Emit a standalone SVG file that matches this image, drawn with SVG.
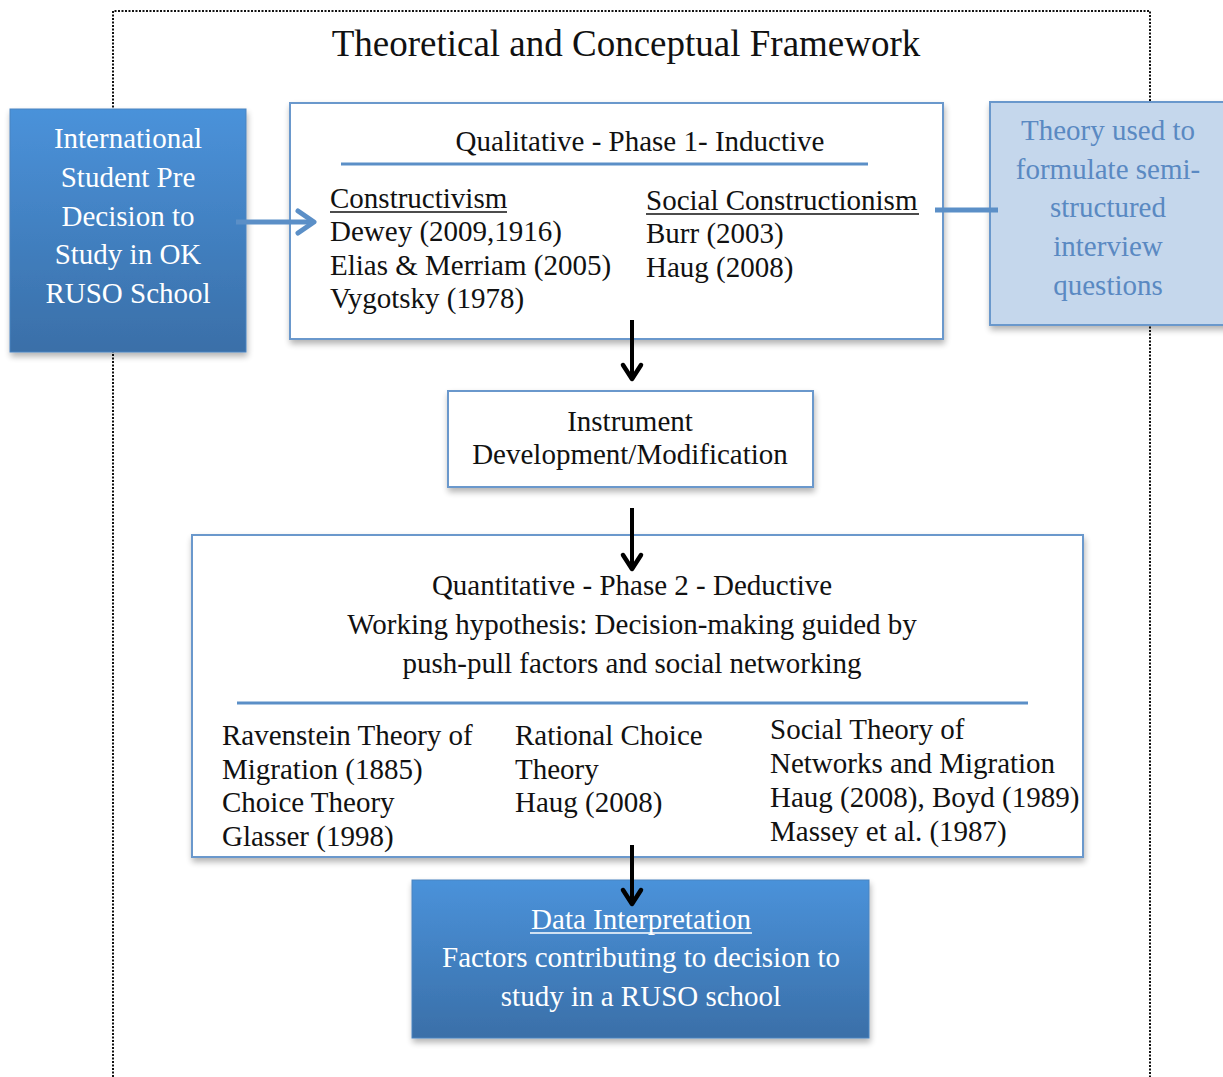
<svg xmlns="http://www.w3.org/2000/svg" width="1223" height="1077" viewBox="0 0 1223 1077">
  <style>
    text { font-family: "Liberation Serif", "Times New Roman", serif; font-size: 29px; fill: #111; }
    .title { font-size: 37px; text-anchor: middle; }
    .mid { text-anchor: middle; }
    .white { fill: #ffffff; }
    .pale { fill: #5a89c2; }
    .frame { fill: #ffffff; stroke: #6a98cc; stroke-width: 2; }
    .rule { stroke: #5b8fc7; stroke-width: 3; }
    .ul { stroke: #111; stroke-width: 1.4; }
    .ulw { stroke: #ffffff; stroke-width: 1.4; }
    .down { stroke: #000; stroke-width: 4; fill: none; }
    .chev { stroke: #000; stroke-width: 4.5; fill: none; stroke-linecap: round; stroke-linejoin: round; }
  </style>
  <defs>
    <linearGradient id="blueFill" x1="0" y1="0" x2="0" y2="1">
      <stop offset="0" stop-color="#4a92da"/>
      <stop offset="1" stop-color="#3a6fa8"/>
    </linearGradient>
    <filter id="shadow" x="-10%" y="-10%" width="125%" height="125%">
      <feGaussianBlur in="SourceAlpha" stdDeviation="3"/>
      <feOffset dx="1" dy="4" result="b"/>
      <feComponentTransfer><feFuncA type="linear" slope="0.3"/></feComponentTransfer>
      <feMerge><feMergeNode/><feMergeNode in="SourceGraphic"/></feMerge>
    </filter>
  </defs>

  <rect width="1223" height="1077" fill="#ffffff"/>

  <!-- dotted page frame -->
  <path d="M113 1077 V11 H1150 V1077" fill="none" stroke="#111" stroke-width="2" stroke-dasharray="2 1.5"/>

  <text class="title" x="626" y="56">Theoretical and Conceptual Framework</text>

  <!-- left input box -->
  <g id="student-decision">
    <rect x="10" y="109" width="236" height="243" fill="url(#blueFill)" stroke="#4a84c0" stroke-width="1" filter="url(#shadow)"/>
    <text class="mid white" x="128" y="148">International</text>
    <text class="mid white" x="128" y="187">Student Pre</text>
    <text class="mid white" x="128" y="226">Decision to</text>
    <text class="mid white" x="128" y="264">Study in OK</text>
    <text class="mid white" x="128" y="303">RUSO School</text>
  </g>

  <!-- phase 1 -->
  <g id="phase1">
    <rect class="frame" x="290" y="103" width="653" height="236" filter="url(#shadow)"/>
    <text class="mid" x="640" y="151">Qualitative - Phase 1- Inductive</text>
    <line class="rule" x1="341" y1="164" x2="868" y2="164"/>
    <text x="330" y="208">Constructivism</text>
    <line class="ul" x1="330" y1="212" x2="507" y2="212"/>
    <text x="330" y="241">Dewey (2009,1916)</text>
    <text x="330" y="275">Elias &amp; Merriam (2005)</text>
    <text x="330" y="308">Vygotsky (1978)</text>
    <text x="646" y="210">Social Constructionism</text>
    <line class="ul" x1="646" y1="214" x2="919" y2="214"/>
    <text x="646" y="243">Burr (2003)</text>
    <text x="646" y="277">Haug (2008)</text>
  </g>

  <!-- right note box -->
  <g id="interview-theory">
    <rect x="990" y="102" width="240" height="223" fill="#c5d7ec" stroke="#6a98cc" stroke-width="2" filter="url(#shadow)"/>
    <text class="mid pale" x="1108" y="140">Theory used to</text>
    <text class="mid pale" x="1108" y="179">formulate semi-</text>
    <text class="mid pale" x="1108" y="217">structured</text>
    <text class="mid pale" x="1108" y="256">interview</text>
    <text class="mid pale" x="1108" y="295">questions</text>
  </g>

  <!-- instrument -->
  <g id="instrument">
    <rect class="frame" x="448" y="391" width="365" height="96" filter="url(#shadow)"/>
    <text class="mid" x="630" y="431">Instrument</text>
    <text class="mid" x="630" y="464">Development/Modification</text>
  </g>

  <!-- phase 2 -->
  <g id="phase2">
    <rect class="frame" x="192" y="535" width="891" height="322" filter="url(#shadow)"/>
    <text class="mid" x="632" y="595">Quantitative - Phase 2 - Deductive</text>
    <text class="mid" x="632" y="634">Working hypothesis: Decision-making guided by</text>
    <text class="mid" x="632" y="673">push-pull factors and social networking</text>
    <line class="rule" x1="237" y1="703" x2="1028" y2="703"/>
    <text x="222" y="745">Ravenstein Theory of</text>
    <text x="222" y="779">Migration (1885)</text>
    <text x="222" y="812">Choice Theory</text>
    <text x="222" y="846">Glasser (1998)</text>
    <text x="515" y="745">Rational Choice</text>
    <text x="515" y="779">Theory</text>
    <text x="515" y="812">Haug (2008)</text>
    <text x="770" y="739">Social Theory of</text>
    <text x="770" y="773">Networks and Migration</text>
    <text x="770" y="807">Haug (2008), Boyd (1989)</text>
    <text x="770" y="841">Massey et al. (1987)</text>
  </g>

  <!-- output box -->
  <g id="data-interpretation">
    <rect x="412" y="880" width="457" height="158" fill="url(#blueFill)" stroke="#4a84c0" stroke-width="1" filter="url(#shadow)"/>
    <text class="mid white" x="641" y="929">Data Interpretation</text>
    <line class="ulw" x1="530" y1="933" x2="752" y2="933"/>
    <text class="mid white" x="641" y="967">Factors contributing to decision to</text>
    <text class="mid white" x="641" y="1006">study in a RUSO school</text>
  </g>

  <!-- connectors -->
  <g id="connectors">
    <line x1="236" y1="222" x2="312" y2="222" stroke="#5b8fc7" stroke-width="5"/>
    <polyline points="298,211 314,222 298,233" fill="none" stroke="#5b8fc7" stroke-width="5" stroke-linecap="round" stroke-linejoin="round"/>
    <line x1="935" y1="210" x2="998" y2="210" stroke="#5b8fc7" stroke-width="5"/>

    <line class="down" x1="632" y1="320" x2="632" y2="378"/>
    <polyline class="chev" points="623,365 632,379 641,365"/>
    <line class="down" x1="632" y1="508" x2="632" y2="568"/>
    <polyline class="chev" points="623,555 632,569 641,555"/>
    <line class="down" x1="632" y1="845" x2="632" y2="903"/>
    <polyline class="chev" points="623,890 632,904 641,890"/>
  </g>
</svg>
